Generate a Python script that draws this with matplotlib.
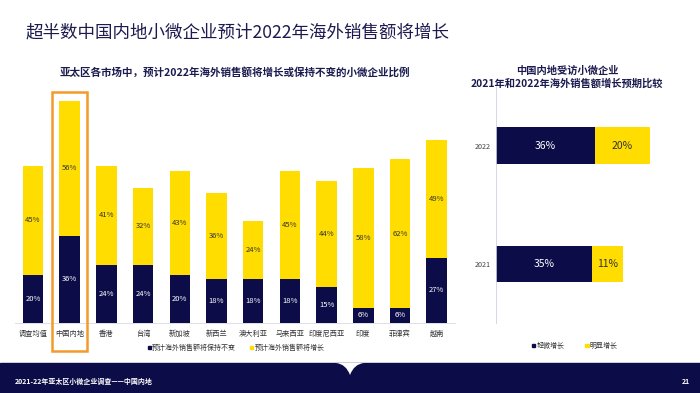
import matplotlib
matplotlib.use("Agg")
import matplotlib.pyplot as plt
from matplotlib.patches import Rectangle, Patch, PathPatch
from matplotlib.path import Path
import matplotlib.transforms as mtransforms
import numpy as np

plt.rcParams['font.family'] = ['Noto Sans CJK SC', 'DejaVu Sans']

NAVY = '#0c0c48'
YELLOW = '#FFDD00'
ORANGE = '#F39A2B'
TITLE_C = '#1b1b50'

# ---------------- data ----------------
markets = ['调查均值', '中国内地', '香港', '台湾', '新加坡', '新西兰', '澳大利亚',
           '马来西亚', '印度尼西亚', '印度', '菲律宾', '越南']
stable = [20, 36, 24, 24, 20, 18, 18, 18, 15, 6, 6, 27]
growth = [45, 56, 41, 32, 43, 36, 24, 45, 44, 58, 62, 49]

years = ['2021', '2022']
slight = [35, 36]
strong = [11, 20]

W, H = 700, 393
fig = plt.figure(figsize=(7.0, 3.93), dpi=100)

def fx(px):
    return px / W

def fy(py):
    return 1 - py / H

# ---------------- main title ----------------
fig.text(fx(26), fy(33), '超半数中国内地小微企业预计2022年海外销售额将增长',
         fontsize=12.6, color=TITLE_C, ha='left', va='center')

# ---------------- left chart ----------------
axL = fig.add_axes([fx(14.65), fy(322.7), fx(455 - 14.65), (322.7 - 81.7) / H])
x = np.arange(len(markets))
bw = 0.56
axL.bar(x, stable, bw, color=NAVY, zorder=2)
axL.bar(x, growth, bw, bottom=stable, color=YELLOW, zorder=2)
for i in range(len(markets)):
    axL.text(x[i], stable[i] / 2, f'{stable[i]}%', ha='center', va='center',
             fontsize=5.5, color='white')
    axL.text(x[i], stable[i] + growth[i] / 2, f'{growth[i]}%', ha='center', va='center',
             fontsize=5.5, color='#333333')
axL.set_xlim(-0.5, len(markets) - 0.5)
axL.set_ylim(0, 100)
axL.set_xticks(x)
axL.set_xticklabels(markets, fontsize=5.2, color='#333333')
axL.tick_params(axis='x', length=0, pad=5)
axL.set_yticks([])
for s in ['top', 'right', 'left']:
    axL.spines[s].set_visible(False)
axL.spines['bottom'].set_color('#d8d8e4')
axL.spines['bottom'].set_linewidth(0.6)

# orange highlight frame around 中国内地
trans = mtransforms.blended_transform_factory(axL.transData, fig.transFigure)
frame = Rectangle((1 - 0.485, fy(351)), 0.97, fy(92) - fy(351), transform=trans,
                  fill=False, edgecolor=ORANGE, linewidth=1.8, clip_on=False, zorder=5)
fig.patches.append(frame)

fig.text(fx(235), fy(72), '亚太区各市场中，预计2022年海外销售额将增长或保持不变的小微企业比例',
         fontsize=7.6, fontweight='bold', color=TITLE_C, ha='center', va='center')

fig.legend(handles=[Patch(color=NAVY, label='预计海外销售额将保持不变'),
                    Patch(color=YELLOW, label='预计海外销售额将增长')],
           loc='center', bbox_to_anchor=(fx(236), fy(348)), ncol=2, frameon=False,
           fontsize=5.0, handlelength=0.45, handleheight=0.45, handletextpad=0.2,
           columnspacing=2.0, labelcolor='#333333')

# ---------------- right chart ----------------
axR = fig.add_axes([fx(496), fy(323), fx(688.5 - 496), (323 - 86.4) / H])
y = np.arange(len(years))
bh = 0.31
axR.barh(y, slight, bh, color=NAVY, zorder=2)
axR.barh(y, strong, bh, left=slight, color=YELLOW, zorder=2)
for i in range(len(years)):
    axR.text(slight[i] / 2, y[i], f'{slight[i]}%', ha='center', va='center',
             fontsize=7.5, color='white')
    axR.text(slight[i] + strong[i] / 2, y[i], f'{strong[i]}%', ha='center', va='center',
             fontsize=7.5, color='#333333')
axR.set_xlim(0, 70)
axR.set_ylim(-0.5, 1.5)
axR.set_yticks(y)
axR.set_yticklabels(years, fontsize=5.2, color='#444444')
axR.tick_params(axis='y', length=0, pad=3.5)
axR.set_xticks([])
for s in ['top', 'right', 'bottom']:
    axR.spines[s].set_visible(False)
axR.spines['left'].set_color('#d0d0e0')
axR.spines['left'].set_linewidth(0.6)

fig.text(fx(567), fy(70.7), '中国内地受访小微企业', fontsize=7.4, fontweight='bold',
         color=TITLE_C, ha='center', va='center')
fig.text(fx(567), fy(83.3), '2021年和2022年海外销售额增长预期比较', fontsize=7.4,
         fontweight='bold', color=TITLE_C, ha='center', va='center')

fig.legend(handles=[Patch(color=NAVY, label='轻微增长'),
                    Patch(color=YELLOW, label='明显增长')],
           loc='center', bbox_to_anchor=(fx(575), fy(346)), ncol=2, frameon=False,
           fontsize=5.0, handlelength=0.45, handleheight=0.45, handletextpad=0.2,
           columnspacing=3.0, labelcolor='#333333')

# ---------------- footer ----------------
band = Rectangle((0, 0), 1, fy(363), transform=fig.transFigure, color=NAVY, zorder=0)
fig.patches.append(band)
notch = PathPatch(Path([(fx(336), fy(363)), (fx(346), fy(364)), (fx(350), fy(375)),
                        (fx(354), fy(364)), (fx(364), fy(363)), (fx(336), fy(363))],
                       [Path.MOVETO, Path.CURVE3, Path.CURVE3, Path.CURVE3, Path.CURVE3,
                        Path.CLOSEPOLY]),
                  transform=fig.transFigure, facecolor='white', edgecolor='none', zorder=1)
fig.patches.append(notch)
fig.text(fx(15), fy(381.5), '2021-22年亚太区小微企业调查——中国内地', fontsize=5,
         fontweight='bold', color='white', ha='left', va='center')
fig.text(fx(686), fy(381), '21', fontsize=5, fontweight='bold', color='white',
         ha='center', va='center')

fig.savefig('out.png', dpi=100)
